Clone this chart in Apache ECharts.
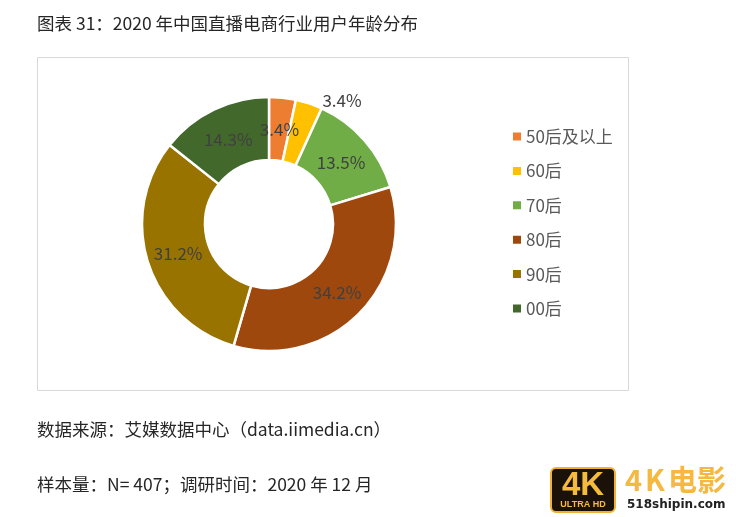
<!DOCTYPE html>
<html>
<head>
<meta charset="utf-8">
<style>
  html, body { margin: 0; padding: 0; background: #fff; }
  #chart { width: 736px; height: 517px; }
</style>
<script src="https://cdn.jsdelivr.net/npm/echarts@6/dist/echarts.min.js"></script>
</head>
<body>
<div id="chart"></div>
<script>
var categories = ['50后及以上', '60后', '70后', '80后', '90后', '00后'];
var shares = [3.4, 3.4, 13.5, 34.2, 31.2, 14.3];
var colors = ['#ed7d31', '#ffc000', '#70ad47', '#9e480e', '#997300', '#43682b'];

var titleText = '图表 31：2020 年中国直播电商行业用户年龄分布';
var sourceText = '数据来源：艾媒数据中心（data.iimedia.cn）';
var sampleText = '样本量：N= 407；调研时间：2020 年 12 月';

var fontName = '"Noto Sans CJK SC", "Noto Sans", sans-serif';
var myChart = echarts.init(document.getElementById('chart'), null, { renderer: 'canvas' });

// nudges so the labels land where the reference has them
var labelNudge = [[0, 3], [42, -30], [-2, 3], [-2, -1], [3, 0], [2, 4]];

function pageText(x, y, text) {
    return {
        type: 'text', x: x, y: y, silent: true,
        style: { text: text, fill: '#262626', font: '17.5px ' + fontName, textVerticalAlign: 'middle' }
    };
}

function logoText(x, y, text, font, fill, align) {
    return {
        type: 'text', x: x, y: y, silent: true,
        style: { text: text, fill: fill, font: font, textAlign: align || 'left', textVerticalAlign: 'middle' }
    };
}

var pieData = categories.map(function (name, i) {
    return {
        name: name,
        value: shares[i],
        itemStyle: { color: colors[i] },
        label: { offset: labelNudge[i] }
    };
});

var logoGold = '#f5b942';
var logoFont = 'bold 29px ' + fontName;

myChart.setOption({
    backgroundColor: '#fff',
    animation: false,
    textStyle: { fontFamily: fontName },
    legend: {
        orient: 'vertical',
        left: 506,
        top: 121,
        itemWidth: 10,
        itemHeight: 10,
        itemGap: 13.4,
        icon: 'rect',
        selectedMode: false,
        textStyle: { color: '#595959', fontSize: 17, fontFamily: fontName, lineHeight: 21, padding: [0, 0, 0, -1] },
        data: categories
    },
    series: [{
        type: 'pie',
        center: [269, 224],
        radius: [64, 127],
        startAngle: 90,
        clockwise: true,
        avoidLabelOverlap: false,
        silent: true,
        itemStyle: { borderColor: '#fff', borderWidth: 2.5 },
        label: {
            show: true,
            position: 'inside',
            color: '#404040',
            fontSize: 17,
            fontFamily: fontName,
            formatter: function (p) { return p.value.toFixed(1) + '%'; }
        },
        labelLine: { show: false },
        data: pieData
    }],
    graphic: [
        { type: 'rect', z: -1, silent: true, shape: { x: 37.5, y: 57.5, width: 591, height: 333 },
          style: { fill: '#fff', stroke: '#d9d9d9', lineWidth: 1 } },
        pageText(37, 23, titleText),
        pageText(37, 429, sourceText),
        pageText(37, 484, sampleText),
        // watermark in the bottom right corner
        { type: 'rect', silent: true, shape: { x: 551, y: 468, width: 64, height: 44, r: 5 },
          style: { fill: '#1a1208', stroke: '#f2b134', lineWidth: 2 } },
        logoText(583, 486, '4K', 'bold 33px "Liberation Sans", sans-serif', '#f5bb3c', 'center'),
        logoText(583, 505, 'ULTRA HD', 'bold 9px "Liberation Sans", sans-serif', '#f5bb3c', 'center'),
        logoText(625, 480, '4', logoFont, logoGold),
        logoText(645, 480, 'K', logoFont, logoGold),
        logoText(668, 480, '电', logoFont, logoGold),
        logoText(697, 480, '影', logoFont, logoGold),
        logoText(627, 505, '518shipin.com', 'bold 12px "DejaVu Sans", sans-serif', '#222')
    ]
});
</script>
</body>
</html>
